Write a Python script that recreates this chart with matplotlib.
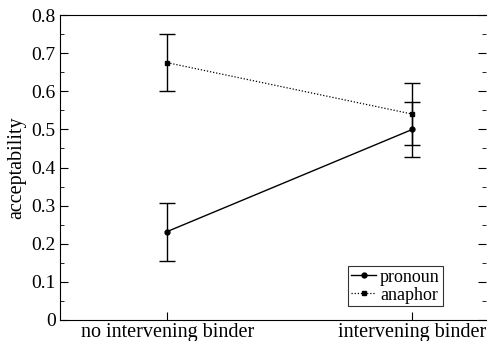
import matplotlib
matplotlib.use('Agg')
import matplotlib.pyplot as plt
from matplotlib.lines import Line2D

# Data
conditions = ['no intervening binder', 'intervening binder']
pronoun_mean = [0.232, 0.500]
pronoun_err = [0.076, 0.072]
anaphor_mean = [0.675, 0.540]
anaphor_err = [0.074, 0.082]
y_ticks = [0, 0.1, 0.2, 0.3, 0.4, 0.5, 0.6, 0.7, 0.8]
y_ticklabels = ['0', '0.1', '0.2', '0.3', '0.4', '0.5', '0.6', '0.7', '0.8']
y_minor = [0.05, 0.15, 0.25, 0.35, 0.45, 0.55, 0.65, 0.75]

plt.rcParams['font.family'] = ['Liberation Serif', 'DejaVu Serif']

fig = plt.figure(figsize=(4.9, 3.41), dpi=100)
ax = fig.add_axes([60 / 490, 21 / 341, 426 / 490, 305 / 341])

x = [1, 2]
dotted = (0, (1, 1.5))
ax.errorbar(x, pronoun_mean, yerr=pronoun_err, color='black', lw=1.0,
            marker='o', ms=3.5, capsize=6, elinewidth=1.0, capthick=1.0)
ax.errorbar(x, anaphor_mean, yerr=anaphor_err, color='black', lw=0.9,
            ls=dotted, marker='s', ms=3.5, capsize=6, elinewidth=1.0,
            capthick=1.0)

ax.set_xlim(0.563, 2.3)
ax.set_ylim(0, 0.8)
ax.set_xticks(x)
ax.set_xticklabels(conditions, fontsize=14.5)
ax.set_yticks(y_ticks)
ax.set_yticklabels(y_ticklabels, fontsize=14)
ax.set_yticks(y_minor, minor=True)
ax.tick_params(axis='y', which='both', direction='in', right=True, pad=3)
ax.tick_params(axis='y', which='major', length=6)
ax.tick_params(axis='y', which='minor', length=3)
ax.tick_params(axis='x', direction='in', length=6, pad=2)
ax.spines['right'].set_visible(False)
ax.set_ylabel('acceptability', fontsize=14.5, labelpad=4)

handles = [Line2D([], [], color='black', lw=1.0, marker='o', ms=3.5),
           Line2D([], [], color='black', lw=0.9, ls=dotted, marker='s', ms=3.5)]
leg = ax.legend(handles, ['pronoun', 'anaphor'], loc='lower right',
                bbox_to_anchor=(0.898, 0.045), fontsize=13,
                frameon=True, fancybox=False, edgecolor='black',
                handlelength=1.4, handletextpad=0.2, borderpad=0.15,
                labelspacing=0.05, borderaxespad=0)
leg.get_frame().set_linewidth(0.8)

fig.savefig('out.png', dpi=100)
